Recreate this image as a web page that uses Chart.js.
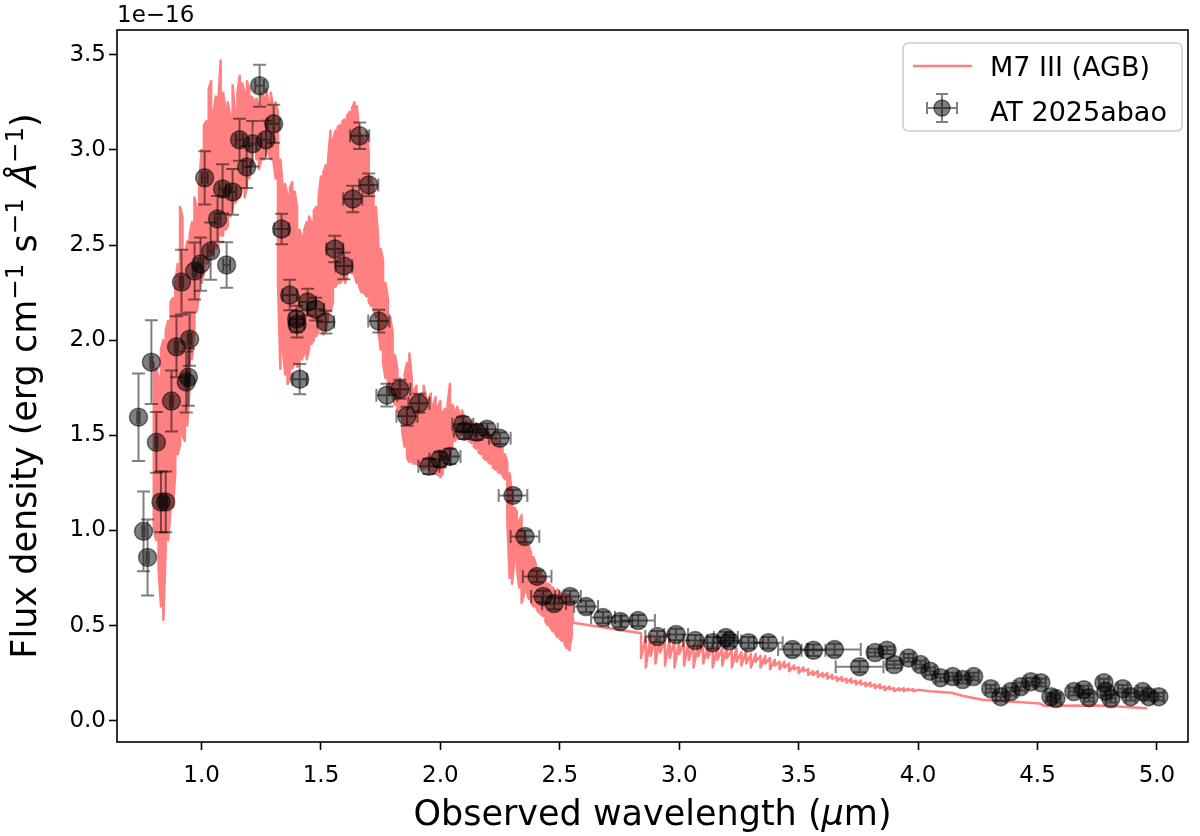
<!DOCTYPE html>
<html><head><meta charset="utf-8">
<script src="https://cdn.jsdelivr.net/npm/chart.js@4.4.1/dist/chart.umd.min.js"></script>
<style>html,body{margin:0;padding:0;background:#fff}canvas{display:block}</style>
</head><body>
<canvas id="c" width="1200" height="836"></canvas>
<script>
// ---- tick labels / axis ranges ----
const xTicks = [1.0, 1.5, 2.0, 2.5, 3.0, 3.5, 4.0, 4.5, 5.0];
const yTicks = [0.0, 0.5, 1.0, 1.5, 2.0, 2.5, 3.0, 3.5];
const xRange = [0.646, 5.13];
const yRange = [-0.112, 3.63];

// ---- M7 III (AGB) template spectrum (units 1e-16), upper / lower excursions per wavelength ----
const modelWave = [0.80,0.81,0.82,0.83,0.84,0.85,0.86,0.87,0.88,0.89,0.90,0.91,0.92,0.93,0.94,0.95,0.96,0.97,0.98,0.99,
1.00,1.01,1.02,1.03,1.04,1.05,1.06,1.07,1.08,1.09,1.10,1.11,1.12,1.13,1.14,1.15,1.16,1.17,1.18,1.19,
1.20,1.21,1.22,1.23,1.24,1.25,1.26,1.27,1.28,1.29,1.30,1.31,1.32,1.33,1.34,1.35,1.36,1.37,1.38,1.39,
1.40,1.41,1.42,1.43,1.44,1.45,1.46,1.47,1.48,1.49,1.50,1.51,1.52,1.53,1.54,1.55,1.56,1.57,1.58,1.59,
1.60,1.61,1.62,1.63,1.64,1.65,1.66,1.67,1.68,1.69,1.70,1.71,1.72,1.73,1.74,1.75,1.76,1.77,1.78,1.79,
1.80,1.81,1.82,1.83,1.84,1.85,1.86,1.87,1.88,1.89,1.90,1.91,1.92,1.93,1.94,1.95,1.96,1.97,1.98,1.99,
2.00,2.01,2.02,2.03,2.04,2.05,2.06,2.07,2.08,2.09,2.10,2.11,2.12,2.13,2.14,2.15,2.16,2.17,2.18,2.19,
2.20,2.21,2.22,2.23,2.24,2.25,2.26,2.27,2.28,2.29,2.30,2.31,2.32,2.33,2.34,2.35,2.36,2.37,2.38,2.39,
2.40,2.41,2.42,2.43,2.44,2.45,2.46,2.47,2.48,2.49,2.50,2.51,2.52,2.53,2.54,2.55,2.556,
2.84,2.86,2.88,2.90,2.92,2.94,2.96,2.98,3.00,3.02,3.04,3.06,3.08,3.10,3.12,3.14,3.16,3.18,3.20,3.22,
3.24,3.26,3.28,3.30,3.32,3.34,3.36,3.38,3.40,3.42,3.44,3.46,3.48,3.50,3.52,3.54,3.56,3.58,3.60,3.62,
3.64,3.66,3.68,3.70,3.72,3.74,3.76,3.78,3.80,3.82,3.84,3.86,3.88,3.90,3.92,3.94,3.96,3.98,
4.00,4.05,4.14,4.19,4.27,4.40,4.51,4.53,4.75,4.84,4.96];
const modelHi = [1.88,1.85,1.80,1.95,2.00,2.05,2.10,2.20,2.22,2.30,2.40,2.70,2.65,2.45,2.52,2.55,2.62,2.75,2.70,2.81,
3.00,3.13,3.15,3.32,3.36,3.20,3.28,3.25,3.47,3.30,3.22,3.25,3.18,3.34,3.20,3.30,3.39,3.35,3.30,3.36,
3.32,3.28,3.26,3.27,3.22,3.30,3.28,3.32,3.25,3.30,3.22,3.25,3.20,2.95,2.80,2.82,2.76,2.80,2.83,2.78,
2.70,2.58,2.55,2.58,2.62,2.65,2.62,2.68,2.70,2.75,2.86,2.88,2.92,2.95,3.10,3.05,3.10,3.12,3.13,3.15,
3.16,3.18,3.20,3.22,3.25,3.23,3.10,3.08,3.05,3.10,3.00,2.86,2.80,2.70,2.53,2.48,2.42,2.30,2.22,2.12,
2.04,1.92,1.85,1.80,1.78,1.82,1.88,1.93,1.80,1.74,1.76,1.70,1.72,1.76,1.70,1.68,1.72,1.66,1.70,1.65,
1.68,1.62,1.64,1.66,1.77,1.66,1.63,1.65,1.61,1.63,1.60,1.58,1.57,1.58,1.55,1.56,1.54,1.55,1.53,1.53,
1.52,1.50,1.48,1.50,1.46,1.45,1.44,1.40,1.36,1.30,1.18,1.12,1.10,1.05,1.08,1.00,0.95,0.92,0.88,0.86,
0.82,0.80,0.78,0.76,0.75,0.72,0.71,0.70,0.68,0.69,0.67,0.66,0.67,0.66,0.66,0.64,0.515,
0.46,0.44,0.45,0.43,0.44,0.42,0.43,0.42,0.42,0.41,0.42,0.40,0.41,0.40,0.39,0.40,0.39,0.38,0.39,0.37,
0.38,0.36,0.37,0.35,0.35,0.34,0.34,0.33,0.32,0.31,0.31,0.30,0.29,0.28,0.28,0.27,0.26,0.26,0.25,0.25,
0.24,0.23,0.23,0.22,0.22,0.21,0.21,0.20,0.20,0.19,0.19,0.18,0.18,0.17,0.17,0.17,0.168,0.165,
0.162,0.155,0.147,0.13,0.11,0.10,0.09,0.078,0.08,0.074,0.065];
const modelLo = [1.00,0.95,0.80,0.60,0.53,0.92,0.95,1.10,1.12,1.30,1.40,1.45,1.50,1.47,1.55,1.75,1.90,2.05,2.15,2.25,
2.30,2.35,2.40,2.42,2.45,2.45,2.48,2.50,2.55,2.55,2.58,2.60,2.65,2.70,2.72,2.74,2.75,2.80,2.75,2.80,
2.85,2.95,3.15,2.95,2.90,2.95,2.95,3.00,2.98,2.95,2.95,2.85,2.30,1.85,1.95,1.82,1.77,1.80,1.85,1.88,
1.86,1.88,1.90,1.93,1.90,1.95,1.98,2.00,2.02,2.05,2.06,2.03,2.05,2.12,2.15,2.20,2.28,2.30,2.30,2.32,
2.30,2.34,2.36,2.35,2.34,2.30,2.28,2.25,2.25,2.23,2.20,2.18,2.16,2.12,2.05,1.95,1.88,1.80,1.76,1.72,
1.70,1.66,1.64,1.60,1.52,1.44,1.38,1.36,1.36,1.35,1.35,1.34,1.33,1.32,1.33,1.32,1.31,1.30,1.30,1.29,
1.28,1.30,1.33,1.36,1.40,1.44,1.47,1.49,1.50,1.50,1.48,1.49,1.47,1.46,1.44,1.43,1.41,1.40,1.38,1.37,
1.36,1.35,1.33,1.32,1.31,1.30,1.29,1.27,1.05,0.75,0.72,0.85,0.80,0.70,0.62,0.66,0.68,0.64,0.62,0.60,
0.60,0.57,0.56,0.55,0.52,0.50,0.49,0.47,0.46,0.44,0.43,0.42,0.40,0.38,0.37,0.45,0.515,
0.33,0.28,0.34,0.30,0.36,0.29,0.33,0.28,0.35,0.29,0.32,0.28,0.34,0.30,0.33,0.28,0.32,0.29,0.33,0.28,
0.31,0.29,0.30,0.28,0.31,0.28,0.30,0.27,0.29,0.27,0.28,0.26,0.27,0.25,0.26,0.24,0.24,0.23,0.23,0.22,
0.22,0.21,0.21,0.20,0.20,0.19,0.19,0.18,0.18,0.17,0.17,0.16,0.165,0.155,0.16,0.155,0.16,0.155,
0.162,0.155,0.147,0.13,0.11,0.10,0.09,0.078,0.08,0.074,0.065];

// ---- AT 2025abao photometry / spectrophotometry (units 1e-16) ----
const obsWave = [0.736,0.757,0.774,0.790,0.811,0.830,0.850,0.874,0.895,0.916,0.936,0.945,0.950,0.971,0.996,1.013,1.038,1.067,1.088,1.105,
1.130,1.159,1.189,1.214,1.243,1.270,1.302,1.335,1.369,1.398,1.400,1.411,1.444,1.478,1.520,1.558,1.596,1.633,1.662,1.700,
1.742,1.776,1.830,1.860,1.910,1.952,1.998,2.040,2.094,2.100,2.153,2.195,2.249,2.304,2.354,2.405,2.430,2.476,2.543,2.610,
2.681,2.753,2.828,2.908,2.987,3.067,3.140,3.195,3.210,3.290,3.373,3.474,3.562,3.650,3.755,3.820,3.870,3.900,3.960,4.010,
4.050,4.094,4.145,4.187,4.233,4.304,4.346,4.388,4.430,4.472,4.514,4.556,4.577,4.652,4.694,4.715,4.778,4.786,4.807,4.857,
4.890,4.940,4.966,5.008];
const obsFlux = [1.595,0.995,0.858,1.884,1.463,1.150,1.150,1.680,1.965,2.305,1.780,1.805,2.005,2.363,2.400,2.853,2.468,2.637,2.795,2.395,
2.779,3.053,2.910,3.032,3.337,3.053,3.137,2.584,2.237,2.111,2.084,1.795,2.200,2.163,2.095,2.479,2.390,2.742,3.074,2.816,
2.100,1.711,1.742,1.600,1.668,1.337,1.374,1.389,1.558,1.521,1.516,1.532,1.484,1.184,0.968,0.758,0.653,0.616,0.653,0.600,
0.542,0.521,0.526,0.442,0.453,0.421,0.410,0.437,0.420,0.410,0.410,0.374,0.370,0.374,0.284,0.358,0.370,0.295,0.330,0.295,
0.260,0.226,0.232,0.216,0.232,0.168,0.126,0.153,0.179,0.205,0.200,0.126,0.116,0.153,0.163,0.121,0.200,0.153,0.116,0.168,
0.126,0.153,0.126,0.126];
const obsFluxErr = [0.23,0.21,0.20,0.22,0.16,0.16,0.16,0.16,0.16,0.17,0.16,0.15,0.14,0.15,0.14,0.14,0.15,0.12,0.13,0.12,
0.12,0.11,0.11,0.12,0.11,0.10,0.10,0.08,0.08,0.07,0.07,0.08,0.07,0.06,0.06,0.07,0.07,0.07,0.07,0.06,
0.06,0.06,0.05,0.05,0.05,0.04,0.04,0.04,0.04,0.04,0.04,0.03,0.03,0.03,0.03,0.03,0.03,0.03,0.03,0.03,
0.03,0.03,0.03,0.03,0.03,0.03,0.03,0.03,0.03,0.03,0.03,0.03,0.03,0.03,0.03,0.02,0.02,0.02,0.02,0.02,
0.02,0.02,0.02,0.02,0.02,0.02,0.02,0.02,0.02,0.02,0.02,0.02,0.02,0.02,0.02,0.02,0.02,0.02,0.02,0.02,
0.02,0.02,0.02,0.02];
const obsWaveErr = [0.005,0.005,0.005,0.005,0.005,0.006,0.006,0.006,0.007,0.007,0.007,0.007,0.008,0.008,0.010,0.012,0.012,0.012,0.014,0.014,
0.015,0.015,0.016,0.016,0.018,0.020,0.025,0.030,0.030,0.030,0.030,0.030,0.035,0.035,0.035,0.035,0.035,0.040,0.040,0.040,
0.044,0.044,0.044,0.044,0.044,0.044,0.044,0.044,0.044,0.044,0.044,0.045,0.045,0.060,0.060,0.060,0.050,0.050,0.045,0.050,
0.050,0.050,0.070,0.050,0.050,0.050,0.050,0.050,0.050,0.060,0.060,0.060,0.050,0.110,0.100,0.030,0.030,0.030,0.020,0.020,
0.020,0.020,0.020,0.020,0.020,0.020,0.020,0.020,0.020,0.020,0.020,0.020,0.020,0.020,0.020,0.020,0.020,0.020,0.020,0.020,
0.020,0.020,0.020,0.020];

// ---- build datasets from the arrays (vertical excursions drawn as one continuous line) ----
const modelPoints = [];
for (let i = 0; i < modelWave.length; i++) {
  const hi = {x: modelWave[i], y: modelHi[i]}, lo = {x: modelWave[i], y: modelLo[i]};
  if (modelLo[i] === modelHi[i]) { modelPoints.push(hi); continue; }
  // dense part: alternate direction; sparser long-wavelength part: drop-and-rise teeth
  if (modelWave[i] > 2.8 || i % 2 === 0) { modelPoints.push(hi, lo); } else { modelPoints.push(lo, hi); }
}
const obsPoints = obsWave.map((w, i) => ({x: w, y: obsFlux[i]}));

const FONT = 'DejaVu Sans';
const MODEL_COLOR = '#ff8080';
const OBS_COLOR = 'rgba(0,0,0,0.5)';

function drawErrBar(ctx, x, y, x1, x2, y1, y2, cap) {
  ctx.beginPath();
  ctx.moveTo(x, y1); ctx.lineTo(x, y2);
  ctx.moveTo(x1, y); ctx.lineTo(x2, y);
  ctx.moveTo(x - cap, y1); ctx.lineTo(x + cap, y1);
  ctx.moveTo(x - cap, y2); ctx.lineTo(x + cap, y2);
  ctx.moveTo(x1, y - cap); ctx.lineTo(x1, y + cap);
  ctx.moveTo(x2, y - cap); ctx.lineTo(x2, y + cap);
  ctx.stroke();
}

const errorBars = {
  id: 'errorBars',
  beforeDatasetDraw(chart, args) {
    if (args.index !== 0) return;
    const {ctx, scales: {x, y}} = chart;
    ctx.save();
    ctx.strokeStyle = OBS_COLOR;
    ctx.lineWidth = 2;
    for (let i = 0; i < obsWave.length; i++) {
      const cx = x.getPixelForValue(obsWave[i]);
      const cy = y.getPixelForValue(obsFlux[i]);
      drawErrBar(ctx, cx, cy,
        x.getPixelForValue(obsWave[i] - obsWaveErr[i]),
        x.getPixelForValue(obsWave[i] + obsWaveErr[i]),
        y.getPixelForValue(obsFlux[i] - obsFluxErr[i]),
        y.getPixelForValue(obsFlux[i] + obsFluxErr[i]), 6.5);
    }
    ctx.restore();
  }
};

function richWidth(ctx, segs) {
  let w = 0;
  for (const s of segs) { ctx.font = s.font; w += ctx.measureText(s.t).width; }
  return w;
}
function drawRich(ctx, segs, x, y) {
  let cx = x - richWidth(ctx, segs) / 2;
  ctx.textAlign = 'left';
  ctx.textBaseline = 'alphabetic';
  for (const s of segs) {
    ctx.font = s.font;
    ctx.fillText(s.t, cx, y - (s.rise || 0));
    cx += ctx.measureText(s.t).width;
  }
}

const decorations = {
  id: 'decorations',
  afterDraw(chart) {
    const {ctx, chartArea: a} = chart;
    ctx.save();
    // frame
    ctx.strokeStyle = '#000';
    ctx.lineWidth = 1.6;
    ctx.strokeRect(a.left, a.top, a.right - a.left, a.bottom - a.top);
    ctx.fillStyle = '#000';
    // offset text
    ctx.font = `23px "${FONT}"`;
    ctx.textAlign = 'left';
    ctx.textBaseline = 'alphabetic';
    ctx.fillText('1e\u221216', a.left, 22);
    // axis titles
    const N = `35px "${FONT}"`, I = `oblique 35px "${FONT}"`, S = `24.5px "${FONT}"`;
    drawRich(ctx, [
      {t: 'Observed wavelength (', font: N},
      {t: '\u03bc', font: I},
      {t: 'm)', font: N}
    ], (a.left + a.right) / 2, 825);
    ctx.save();
    ctx.translate(36, (a.top + a.bottom) / 2);
    ctx.rotate(-Math.PI / 2);
    drawRich(ctx, [
      {t: 'Flux density (erg cm', font: N},
      {t: '\u22121', font: S, rise: 13},
      {t: ' s', font: N},
      {t: '\u22121', font: S, rise: 13},
      {t: ' ', font: N},
      {t: '\u00c5', font: I},
      {t: '\u22121', font: S, rise: 13},
      {t: ')', font: N}
    ], 0, 0);
    ctx.restore();
    // legend
    const lx = 903, ly = 43, lw = 279, lh = 88, r = 6;
    ctx.beginPath();
    ctx.moveTo(lx + r, ly); ctx.lineTo(lx + lw - r, ly); ctx.quadraticCurveTo(lx + lw, ly, lx + lw, ly + r);
    ctx.lineTo(lx + lw, ly + lh - r); ctx.quadraticCurveTo(lx + lw, ly + lh, lx + lw - r, ly + lh);
    ctx.lineTo(lx + r, ly + lh); ctx.quadraticCurveTo(lx, ly + lh, lx, ly + lh - r);
    ctx.lineTo(lx, ly + r); ctx.quadraticCurveTo(lx, ly, lx + r, ly);
    ctx.closePath();
    ctx.fillStyle = 'rgba(255,255,255,0.8)';
    ctx.fill();
    ctx.strokeStyle = '#cccccc';
    ctx.lineWidth = 1.5;
    ctx.stroke();
    ctx.strokeStyle = MODEL_COLOR;
    ctx.lineWidth = 2.5;
    ctx.beginPath(); ctx.moveTo(913, 66); ctx.lineTo(972, 66); ctx.stroke();
    ctx.strokeStyle = OBS_COLOR;
    ctx.lineWidth = 2;
    drawErrBar(ctx, 942, 108, 927, 957, 94, 122, 6);
    ctx.beginPath(); ctx.arc(942, 108, 8, 0, Math.PI * 2);
    ctx.fillStyle = OBS_COLOR; ctx.fill();
    ctx.lineWidth = 1.5; ctx.stroke();
    ctx.fillStyle = '#000';
    ctx.font = `27px "${FONT}"`;
    ctx.textAlign = 'left';
    ctx.textBaseline = 'alphabetic';
    ctx.fillText('M7 III (AGB)', 990, 76);
    ctx.fillText('AT 2025abao', 990, 121);
    ctx.restore();
  }
};

Chart.defaults.font.family = FONT;
Chart.defaults.color = '#000';

new Chart(document.getElementById('c'), {
  type: 'scatter',
  data: {
    datasets: [
      {
        label: 'AT 2025abao',
        data: obsPoints,
        showLine: false,
        pointRadius: 9,
        pointHoverRadius: 9,
        pointBackgroundColor: OBS_COLOR,
        pointBorderColor: OBS_COLOR,
        pointBorderWidth: 1.5,
        order: 1
      },
      {
        label: 'M7 III (AGB)',
        data: modelPoints,
        showLine: true,
        pointRadius: 0,
        borderColor: MODEL_COLOR,
        borderWidth: 2.5,
        borderJoinStyle: 'round',
        tension: 0,
        order: 2
      }
    ]
  },
  options: {
    responsive: false,
    animation: false,
    events: [],
    layout: {padding: {top: 30, right: 12, left: 0, bottom: 0}},
    plugins: {legend: {display: false}, tooltip: {enabled: false}},
    scales: {
      x: {
        type: 'linear',
        min: xRange[0], max: xRange[1],
        afterFit(s) { s.height = 94; },
        afterBuildTicks(s) { s.ticks = xTicks.map(v => ({value: v})); },
        grid: {drawOnChartArea: false, drawTicks: true, tickLength: 8, tickWidth: 1.6, tickColor: '#000'},
        border: {display: false},
        ticks: {font: {size: 23}, color: '#000', padding: 12, autoSkip: false, maxRotation: 0,
                callback: v => Number(v).toFixed(1)}
      },
      y: {
        type: 'linear',
        min: yRange[0], max: yRange[1],
        afterFit(s) { s.width = 117; },
        afterBuildTicks(s) { s.ticks = yTicks.map(v => ({value: v})); },
        grid: {drawOnChartArea: false, drawTicks: true, tickLength: 8, tickWidth: 1.6, tickColor: '#000'},
        border: {display: false},
        ticks: {font: {size: 23}, color: '#000', padding: 3, autoSkip: false,
                callback: v => Number(v).toFixed(1)}
      }
    }
  },
  plugins: [errorBars, decorations]
});
</script>
</body></html>
